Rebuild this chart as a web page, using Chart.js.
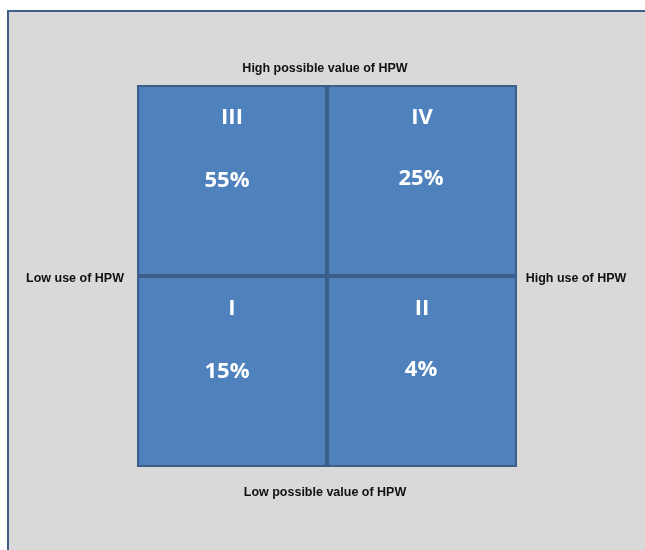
<!DOCTYPE html>
<html>
<head>
<meta charset="utf-8">
<script src="https://cdn.jsdelivr.net/npm/chart.js@4"></script>
<style>
  html, body { margin: 0; padding: 0; background: #ffffff; overflow: hidden; }
  #frame {
    position: absolute; left: 7px; top: 10px;
    width: 636px; height: 538px;
    background: #d9d9d9;
    border-left: 2px solid #3e5f87;
    border-top: 2px solid #3e5f87;
  }
  canvas { display: block; }
</style>
</head>
<body>
<div id="frame"><canvas id="quad" width="636" height="538"></canvas></div>
<script>
// columns: use of HPW (x), rows: possible value of HPW (y)
const useLabels = ['Low use of HPW', 'High use of HPW'];
const valueLabels = ['Low possible value of HPW', 'High possible value of HPW'];

// one dataset per row, bottom row first
const lowRowNames = ['I', 'II'];
const lowRowShares = ['15%', '4%'];
const highRowNames = ['III', 'IV'];
const highRowShares = ['55%', '25%'];

const cellSize = [1, 1];

const fill = '#4f81bd';
const edge = '#3a5f8c';

// text inside cells + titles round the square
const quadText = {
  id: 'quadText',
  afterDatasetsDraw(chart) {
    const ctx = chart.ctx;
    const a = chart.chartArea;
    const rows = [
      { names: lowRowNames, shares: lowRowShares },
      { names: highRowNames, shares: highRowShares }
    ];
    ctx.save();
    ctx.textAlign = 'center';
    ctx.textBaseline = 'middle';
    ctx.fillStyle = '#ffffff';
    ctx.font = 'bold 22px "Open Sans", sans-serif';
    rows.forEach((r, di) => {
      chart.getDatasetMeta(di).data.forEach((bar, i) => {
        const top = Math.min(bar.y, bar.base);
        ctx.fillText(r.names[i], bar.x, top + 33);
        ctx.fillText(r.shares[i], bar.x - (i === 0 ? 5 : 1), top + 96 - (i === 1 ? 2 : 0));
      });
    });

    ctx.fillStyle = '#111111';
    ctx.font = 'bold 12.5px "Liberation Sans", Arial, sans-serif';
    const cx = (a.left + a.right) / 2;
    const cy = (a.top + a.bottom) / 2;
    ctx.fillText(valueLabels[1], cx - 2, a.top - 16);
    ctx.fillText(valueLabels[0], cx - 2, a.bottom + 26);
    ctx.fillText(useLabels[0], a.left - 62, cy + 3);
    ctx.fillText(useLabels[1], a.right + 59, cy + 3);
    ctx.restore();
  }
};

new Chart(document.getElementById('quad'), {
  type: 'bar',
  data: {
    labels: useLabels,
    datasets: [
      { label: valueLabels[0], data: cellSize, backgroundColor: fill, borderColor: edge, borderWidth: 2.5, borderSkipped: false },
      { label: valueLabels[1], data: cellSize, backgroundColor: fill, borderColor: edge, borderWidth: 2.5, borderSkipped: false }
    ]
  },
  options: {
    responsive: false,
    animation: false,
    devicePixelRatio: 1,
    layout: { padding: { left: 128, right: 128, top: 73, bottom: 83 } },
    datasets: { bar: { barPercentage: 1, categoryPercentage: 1 } },
    scales: {
      x: { display: false, stacked: true },
      y: { display: false, stacked: true, min: 0, max: 2 }
    },
    plugins: { legend: { display: false }, tooltip: { enabled: false } }
  },
  plugins: [quadText]
});
</script>
</body>
</html>
